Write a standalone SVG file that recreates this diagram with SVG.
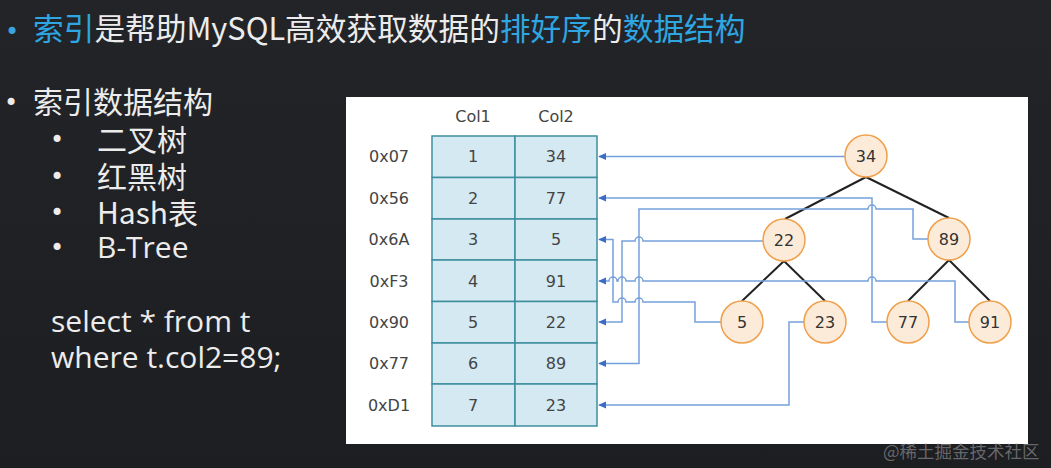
<svg xmlns="http://www.w3.org/2000/svg" width="1051" height="468" viewBox="0 0 1051 468">
<defs>
<linearGradient id="bg" x1="0" y1="0" x2="0" y2="1">
<stop offset="0" stop-color="#232428"/>
<stop offset="1" stop-color="#1d1e22"/>
</linearGradient>
<marker id="arr" viewBox="0 0 10 10" refX="9" refY="5" markerWidth="8" markerHeight="8" markerUnits="userSpaceOnUse" orient="auto">
<path d="M0,0.5 L10,5 L0,9.5 z" fill="#3b6cc6"/>
</marker>
<style>
.cjk{font-family:"Noto Sans CJK SC","Open Sans",sans-serif;fill:#ececec;font-size:30px}
.lat{font-family:"Open Sans","Noto Sans CJK SC",sans-serif;fill:#ececec;font-size:30px}
.blue{fill:#2ea6e2}
.bul{font-family:"DejaVu Sans",sans-serif;fill:#ececec;font-size:24px}
.cell{fill:#d4e9f2;stroke:#3e8e9e;stroke-width:1.5}
.tt{font-family:"DejaVu Sans",sans-serif;font-size:16px;fill:#444;text-anchor:middle}
.node circle{fill:#fdebd9;stroke:#f0a04b;stroke-width:1.5}
.node text{font-family:"DejaVu Sans",sans-serif;font-size:16px;fill:#333;text-anchor:middle}
.edge{stroke:#222;stroke-width:2;fill:none}
.link{stroke:#76a0dc;stroke-width:1.5;fill:none;marker-end:url(#arr)}
.wm{font-family:"Noto Sans CJK SC",sans-serif;font-size:17.5px;fill:#9a9a9a;fill-opacity:0.6}
</style>
</defs>
<rect x="0" y="0" width="1051" height="468" fill="url(#bg)"/>

<g id="title">
<text x="5" y="40" class="bul" style="fill:#3aa3dc">•</text>
<text x="33" y="40" class="cjk" style="font-size:30.7px"><tspan class="blue">索引</tspan>是帮助MySQL高效获取数据的<tspan class="blue">排好序</tspan>的<tspan class="blue">数据结构</tspan></text>
</g>

<g id="list">
<text x="4" y="111" class="bul">•</text>
<text x="33" y="113" class="cjk">索引数据结构</text>
<text x="50" y="148" class="bul">•</text>
<text x="97" y="151" class="cjk">二叉树</text>
<text x="50" y="185" class="bul">•</text>
<text x="97" y="188" class="cjk">红黑树</text>
<text x="50" y="221" class="bul">•</text>
<text x="97" y="224" class="cjk">Hash表</text>
<text x="50" y="256" class="bul">•</text>
<text x="97" y="258" class="lat">B-Tree</text>
<text x="51" y="332" class="lat">select * from t</text>
<text x="51" y="368" class="lat">where t.col2=89;</text>
</g>

<rect id="panel" x="346" y="97" width="682" height="347" fill="#ffffff"/>

<g id="table">
<text x="473" y="122" class="tt">Col1</text>
<text x="556" y="122" class="tt">Col2</text>
<rect class="cell" x="432" y="136" width="83" height="41.5"/>
<rect class="cell" x="515" y="136" width="82" height="41.5"/>
<rect class="cell" x="432" y="177.5" width="83" height="41.5"/>
<rect class="cell" x="515" y="177.5" width="82" height="41.5"/>
<rect class="cell" x="432" y="219" width="83" height="41"/>
<rect class="cell" x="515" y="219" width="82" height="41"/>
<rect class="cell" x="432" y="260" width="83" height="41.5"/>
<rect class="cell" x="515" y="260" width="82" height="41.5"/>
<rect class="cell" x="432" y="301.5" width="83" height="41.5"/>
<rect class="cell" x="515" y="301.5" width="82" height="41.5"/>
<rect class="cell" x="432" y="343" width="83" height="41"/>
<rect class="cell" x="515" y="343" width="82" height="41"/>
<rect class="cell" x="432" y="384" width="83" height="42"/>
<rect class="cell" x="515" y="384" width="82" height="42"/>
<text x="389" y="162" class="tt">0x07</text>
<text x="389" y="203.5" class="tt">0x56</text>
<text x="389" y="245" class="tt">0x6A</text>
<text x="389" y="286.5" class="tt">0xF3</text>
<text x="389" y="327.5" class="tt">0x90</text>
<text x="389" y="369" class="tt">0x77</text>
<text x="389" y="410.5" class="tt">0xD1</text>
<text x="473" y="162" class="tt">1</text>
<text x="473" y="203.5" class="tt">2</text>
<text x="473" y="245" class="tt">3</text>
<text x="473" y="286.5" class="tt">4</text>
<text x="473" y="327.5" class="tt">5</text>
<text x="473" y="369" class="tt">6</text>
<text x="473" y="410.5" class="tt">7</text>
<text x="556" y="162" class="tt">34</text>
<text x="556" y="203.5" class="tt">77</text>
<text x="556" y="245" class="tt">5</text>
<text x="556" y="286.5" class="tt">91</text>
<text x="556" y="327.5" class="tt">22</text>
<text x="556" y="369" class="tt">89</text>
<text x="556" y="410.5" class="tt">23</text>
</g>

<g id="connectors">
<path class="edge" d="M866,177 L785,219"/>
<path class="edge" d="M866,177 L949,218"/>
<path class="edge" d="M784,261 L742,301"/>
<path class="edge" d="M784,261 L825,301"/>
<path class="edge" d="M949,260 L908,301"/>
<path class="edge" d="M949,260 L990,301"/>
<path class="link" d="M845,156.5 L599,156.5"/>
<path class="link" d="M887,322 L872,322 L872,198 L599,198"/>
<path class="link" d="M721,322 L695,322 L695,302 L643,302 A4,4 0 0 0 635,302 L626,302 A4,4 0 0 0 618,302 L613,302 L613,239.5 L599,239.5"/>
<path class="link" d="M969,322 L955,322 L955,281 L876,281 A4,4 0 0 0 868,281 L643,281 A4,4 0 0 0 635,281 L626,281 A4,4 0 0 0 618,281 L617,281 A4,4 0 0 0 609,281 L599,281"/>
<path class="link" d="M763,241 L643,241 A4,4 0 0 0 635,241 L622,241 L622,322 L599,322"/>
<path class="link" d="M928,239 L913,239 L913,209 L876,209 A4,4 0 0 0 868,209 L639,209 L639,363.5 L599,363.5"/>
<path class="link" d="M804,322 L789,322 L789,405 L599,405"/>
</g>

<g id="n34" class="node"><circle cx="866" cy="156" r="21"/><text x="866" y="162">34</text></g>
<g id="n22" class="node"><circle cx="784" cy="240" r="21"/><text x="784" y="246">22</text></g>
<g id="n89" class="node"><circle cx="949" cy="239" r="21"/><text x="949" y="245">89</text></g>
<g id="n5" class="node"><circle cx="742" cy="322" r="21"/><text x="742" y="328">5</text></g>
<g id="n23" class="node"><circle cx="825" cy="322" r="21"/><text x="825" y="328">23</text></g>
<g id="n77" class="node"><circle cx="908" cy="322" r="21"/><text x="908" y="328">77</text></g>
<g id="n91" class="node"><circle cx="990" cy="322" r="21"/><text x="990" y="328">91</text></g>

<text x="883" y="458" class="wm">@稀土掘金技术社区</text>
</svg>
